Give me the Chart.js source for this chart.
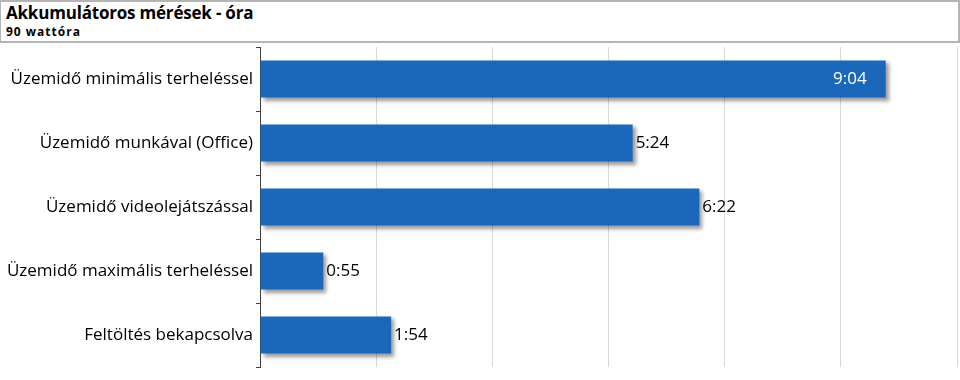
<!DOCTYPE html>
<html>
<head>
<meta charset="utf-8">
<script src="https://cdn.jsdelivr.net/npm/chart.js@4/dist/chart.umd.min.js"></script>
<style>
  html, body { margin: 0; padding: 0; background: #fff; }
  body { width: 960px; height: 380px; position: relative; overflow: hidden; font-family: "Open Sans", "Noto Sans", sans-serif; }
  #titlebox { position: absolute; left: 0; top: 0; width: 957px; height: 39px; border: 2px solid #b4b4b4; border-left-width: 1px; box-sizing: content-box; }
  #title { position: absolute; left: 5px; top: -1px; font-weight: bold; font-size: 17px; color: #000; white-space: nowrap; letter-spacing: -0.2px; }
  #subtitle { position: absolute; left: 5px; top: 21px; font-weight: bold; font-size: 12px; color: #000; white-space: nowrap; letter-spacing: 1px; }
  #wrap { position: absolute; left: 0; top: 42px; width: 960px; height: 338px; }
</style>
</head>
<body>
<div id="titlebox">
  <div id="title">Akkumulátoros mérések - óra</div>
  <div id="subtitle">90 wattóra</div>
</div>
<div id="wrap"><canvas id="c"></canvas></div>
<script>
const categories = [
  "Üzemidő minimális terheléssel",
  "Üzemidő munkával (Office)",
  "Üzemidő videolejátszással",
  "Üzemidő maximális terheléssel",
  "Feltöltés bekapcsolva"
];
// values in minutes
const minutesValues = [544, 324, 382, 55, 114];
const valueLabels = ["9:04", "5:24", "6:22", "0:55", "1:54"];
const axisMax = 606;
const axisStep = 101;

const barColor = '#1B68BB';
const FONT = '"Open Sans", "Noto Sans", sans-serif';

const shadowPlugin = {
  id: 'barShadow',
  beforeDatasetsDraw(chart) {
    const ctx = chart.ctx;
    ctx.save();
    ctx.shadowColor = 'rgba(0,0,0,0.4)';
    ctx.shadowBlur = 4;
    ctx.shadowOffsetX = 3;
    ctx.shadowOffsetY = 3;
  },
  afterDatasetsDraw(chart) {
    chart.ctx.restore();
    const ctx = chart.ctx;
    const meta = chart.getDatasetMeta(0);
    ctx.save();
    ctx.font = '17px ' + FONT;
    ctx.textBaseline = 'middle';
    meta.data.forEach((bar, i) => {
      const lbl = valueLabels[i];
      if (i === 0) {
        ctx.fillStyle = '#ffffff';
        ctx.textAlign = 'right';
        ctx.fillText(lbl, bar.x - 19, bar.y);
      } else {
        ctx.fillStyle = '#000000';
        ctx.textAlign = 'left';
        ctx.fillText(lbl, bar.x + 3, bar.y);
      }
    });
    ctx.restore();
  }
};

new Chart(document.getElementById('c'), {
  type: 'bar',
  data: {
    labels: categories,
    datasets: [{
      data: minutesValues,
      backgroundColor: barColor,
      borderWidth: 0,
      barPercentage: 0.58,
      categoryPercentage: 1.0
    }]
  },
  options: {
    indexAxis: 'y',
    responsive: true,
    maintainAspectRatio: false,
    animation: false,
    layout: { padding: { top: 5, bottom: 13, right: 3, left: 0 } },
    plugins: { legend: { display: false }, tooltip: { enabled: false } },
    scales: {
      x: {
        min: 0,
        max: axisMax,
        ticks: { display: false, stepSize: axisStep },
        grid: { color: '#d9d9d9', drawTicks: false, lineWidth: 1 },
        border: { display: false }
      },
      y: {
        afterFit(scale) { scale.width = 260; scale.paddingTop = 0; scale.paddingBottom = 0; },
        ticks: { color: '#000', font: { family: FONT, size: 17 }, padding: 3 },
        grid: { drawOnChartArea: false, drawTicks: true, tickLength: 4, color: '#404040', offset: true },
        border: { display: true, color: '#404040', width: 1 }
      }
    }
  },
  plugins: [shadowPlugin]
});
</script>
</body>
</html>
